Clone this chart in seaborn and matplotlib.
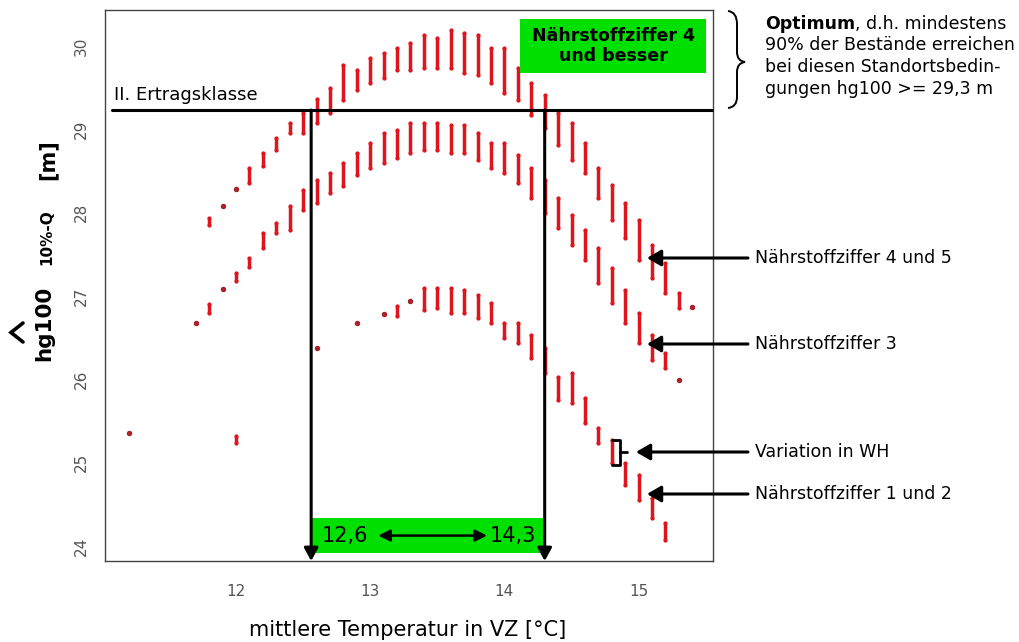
import matplotlib
matplotlib.use("Agg")
import numpy as np
import pandas as pd
import matplotlib.pyplot as plt
import seaborn as sns
from matplotlib.patches import Rectangle, FancyArrowPatch, PathPatch, ArrowStyle
from matplotlib.path import Path
from matplotlib.lines import Line2D

# ---------------- data ----------------
temp_n45 = [11.8, 11.9, 12.0, 12.1, 12.2, 12.3, 12.4, 12.5, 12.6, 12.7, 12.8, 12.9,
            13.0, 13.1, 13.2, 13.3, 13.4, 13.5, 13.6, 13.7, 13.8, 13.9, 14.0, 14.1,
            14.2, 14.3, 14.4, 14.5, 14.6, 14.7, 14.8, 14.9, 15.0, 15.1, 15.2, 15.3, 15.4]
lo_n45 = [27.85, 28.08, 28.28, 28.36, 28.56, 28.75, 28.95, 28.96, 29.08, 29.20, 29.35, 29.47,
          29.55, 29.61, 29.71, 29.71, 29.73, 29.73, 29.73, 29.68, 29.65, 29.56, 29.44, 29.35,
          29.17, 29.02, 28.81, 28.63, 28.47, 28.17, 27.91, 27.69, 27.43, 27.22, 27.03, 26.86, 26.87]
hi_n45 = [27.94, 28.08, 28.28, 28.53, 28.71, 28.90, 29.08, 29.20, 29.36, 29.50, 29.77, 29.71,
          29.86, 29.91, 29.98, 30.04, 30.13, 30.10, 30.19, 30.15, 30.13, 29.98, 29.98, 29.74,
          29.56, 29.41, 29.20, 29.07, 28.84, 28.54, 28.33, 28.11, 27.91, 27.61, 27.40, 27.03, 26.87]

temp_n3 = [11.7, 11.8, 11.9, 12.0, 12.1, 12.2, 12.3, 12.4, 12.5, 12.6, 12.7, 12.8, 12.9,
           13.0, 13.1, 13.2, 13.3, 13.4, 13.5, 13.6, 13.7, 13.8, 13.9, 14.0, 14.1, 14.2,
           14.3, 14.4, 14.5, 14.6, 14.7, 14.8, 14.9, 15.0, 15.1, 15.2, 15.3]
lo_n3 = [26.68, 26.80, 27.08, 27.18, 27.35, 27.58, 27.75, 27.79, 28.03, 28.11, 28.23, 28.32, 28.45,
         28.54, 28.59, 28.66, 28.71, 28.75, 28.75, 28.71, 28.72, 28.63, 28.54, 28.47, 28.35, 28.18,
         27.99, 27.81, 27.61, 27.43, 27.15, 26.91, 26.67, 26.43, 26.23, 26.13, 25.99]
hi_n3 = [26.68, 26.90, 27.08, 27.27, 27.46, 27.75, 27.87, 28.08, 28.27, 28.39, 28.48, 28.60, 28.72,
         28.83, 28.95, 28.99, 29.07, 29.07, 29.07, 29.05, 29.05, 28.96, 28.84, 28.83, 28.69, 28.53,
         28.39, 28.17, 27.97, 27.79, 27.57, 27.34, 27.07, 26.79, 26.53, 26.32, 25.99]

temp_n12 = [11.2, 12.0, 12.6, 12.9, 13.1, 13.2, 13.3, 13.4, 13.5, 13.6, 13.7, 13.8, 13.9,
            14.0, 14.1, 14.2, 14.3, 14.4, 14.5, 14.6, 14.7, 14.8, 14.9, 15.0, 15.1, 15.2]
lo_n12 = [25.35, 25.23, 26.37, 26.67, 26.78, 26.76, 26.94, 26.83, 26.85, 26.80, 26.80, 26.74, 26.67,
          26.50, 26.43, 26.25, 26.07, 25.75, 25.72, 25.48, 25.23, 24.99, 24.73, 24.55, 24.34, 24.07]
hi_n12 = [25.35, 25.32, 26.37, 26.67, 26.78, 26.88, 26.94, 27.09, 27.10, 27.10, 27.07, 27.01, 26.91,
          26.68, 26.68, 26.53, 26.37, 26.03, 26.08, 25.77, 25.42, 25.27, 25.00, 24.85, 24.57, 24.28]

x_ticks = [12, 13, 14, 15]
y_ticks = [24, 25, 26, 27, 28, 29, 30]
ertrag_h = 29.23          # II. Ertragsklasse line
opt_lo, opt_hi = 12.56, 14.30
opt_lo_label, opt_hi_label = "12,6", "14,3"

# ---------------- frames ----------------
frames = []
for name, t, lo, hi in [("4/5", temp_n45, lo_n45, hi_n45),
                        ("3", temp_n3, lo_n3, hi_n3),
                        ("1/2", temp_n12, lo_n12, hi_n12)]:
    frames.append(pd.DataFrame({"temp": t, "lo": lo, "hi": hi, "serie": name}))
ranges = pd.concat(frames, ignore_index=True)
points = ranges.melt(id_vars=["temp", "serie"], value_vars=["lo", "hi"], value_name="h")
single = ranges[ranges["lo"] == ranges["hi"]]

# ---------------- figure ----------------
sns.set_theme(style="white")
plt.rcParams["font.family"] = ["DejaVu Sans"]
plt.rcParams["text.color"] = "black"
W, H = 1020, 642
fig = plt.figure(figsize=(W / 100, H / 100), dpi=100, facecolor="white")


def fp(x, y):
    return (x / W, 1 - y / H)


ax = fig.add_axes([105 / W, 1 - 561 / H, 608 / W, 551 / H])
ax.set_xlim(11.024, 15.554)
ax.set_ylim(23.82, 30.43)

red = "#E0141C"
ax.vlines(ranges["temp"], ranges["lo"], ranges["hi"], colors=red, lw=2.5,
          capstyle="round", zorder=3)
sns.scatterplot(data=points, x="temp", y="h", color=red, s=9,
                linewidth=0, legend=False, ax=ax, zorder=4)
sns.scatterplot(data=single, x="temp", y="lo", color="#B3202A", s=12,
                edgecolor="#8A1A20", linewidth=0.4, legend=False, ax=ax, zorder=4)

ax.set_xticks(x_ticks)
ax.set_yticks(y_ticks)
ax.set_xlabel("")
ax.set_ylabel("")
for sp in ax.spines.values():
    sp.set_color("#444444")
    sp.set_linewidth(1.0)
ax.tick_params(axis="both", direction="out", length=6.5, width=1.0, color="#444444",
               labelcolor="#555555", labelsize=11)
ax.tick_params(axis="x", pad=10)
ax.tick_params(axis="y", pad=5)
for lab in ax.get_yticklabels():
    lab.set_rotation(90)
    lab.set_va("center")

# Ertragsklasse line and optimum boundaries
ax.plot([11.076, 15.547], [ertrag_h, ertrag_h], color="black", lw=2.2, clip_on=False, zorder=5)
ax.text(11.09, 29.35, "II. Ertragsklasse", fontsize=13, color="black", ha="left", va="baseline")

# bottom green box
ax.add_patch(Rectangle((opt_lo, 23.92), opt_hi - opt_lo, 0.41, facecolor="#00E000",
                       edgecolor="none", zorder=2))
for xv in (opt_lo, opt_hi):
    ax.annotate("", xy=(xv, 23.82), xytext=(xv, ertrag_h),
                arrowprops=dict(arrowstyle=ArrowStyle("-|>", head_length=0.55, head_width=0.3),
                                mutation_scale=14, lw=2.2, color="black",
                                shrinkA=0, shrinkB=0), zorder=6, annotation_clip=False)
ax.text(12.81, 24.125, opt_lo_label, fontsize=15, ha="center", va="center", zorder=7)
ax.text(14.06, 24.125, opt_hi_label, fontsize=15, ha="center", va="center", zorder=7)
ax.annotate("", xy=(13.06, 24.125), xytext=(13.87, 24.125),
            arrowprops=dict(arrowstyle=ArrowStyle("<|-|>", head_length=0.5, head_width=0.25),
                            mutation_scale=14, lw=1.8, color="black", shrinkA=0, shrinkB=0),
            zorder=7)

# top green box
ax.add_patch(Rectangle((14.116, 29.68), 1.386, 0.642, facecolor="#00E000",
                       edgecolor="none", zorder=6))
ax.text(14.809, 30.0, "Nährstoffziffer 4\nund besser", fontsize=12.5, fontweight="bold",
        ha="center", va="center", linespacing=1.15, zorder=7, color="black")

# bracket "Variation in WH"
fig.add_artist(Line2D([612 / W, 620 / W, 620 / W, 612 / W],
                      [1 - 440 / H, 1 - 440 / H, 1 - 465 / H, 1 - 465 / H],
                      color="black", lw=2.0, transform=fig.transFigure))
fig.add_artist(Line2D([620 / W, 627 / W], [1 - 452 / H, 1 - 452 / H],
                      color="black", lw=2.0, transform=fig.transFigure))

# axis labels
fig.text(*fp(408, 630), "mittlere Temperatur in VZ [°C]", fontsize=15,
         ha="center", va="center")
fig.text(*fp(44, 323), "hg100", fontsize=15.5, fontweight="bold", rotation=90,
         ha="center", va="center")
fig.text(*fp(47, 237), "10%-Q", fontsize=11, fontweight="bold", rotation=90,
         ha="center", va="center")
fig.text(*fp(48, 160), "[m]", fontsize=15, fontweight="bold", rotation=90,
         ha="center", va="center")
fig.add_artist(Line2D([23 / W, 11 / W, 23 / W], [1 - 323 / H, 1 - 332.5 / H, 1 - 342 / H],
                      color="black", lw=2.6, transform=fig.transFigure,
                      solid_joinstyle="miter"))

# right side: brace and text
verts = [fp(728, 11), fp(737, 12), fp(737, 24), fp(737, 52), fp(737, 61), fp(745, 62),
         fp(737, 63), fp(737, 72), fp(737, 97), fp(737, 107), fp(728, 108)]
codes = [Path.MOVETO, Path.CURVE3, Path.CURVE3, Path.LINETO, Path.CURVE3, Path.CURVE3,
         Path.CURVE3, Path.CURVE3, Path.LINETO, Path.CURVE3, Path.CURVE3]
fig.add_artist(PathPatch(Path(verts, codes), transform=fig.transFigure, fill=False,
                         lw=1.4, edgecolor="black"))

fs = 12.5
t1 = fig.text(*fp(765, 24), "Optimum", fontsize=fs, fontweight="bold", ha="left", va="center")
renderer = fig.canvas.get_renderer()
bb = t1.get_window_extent(renderer)
fig.text(bb.x1 / W, 1 - 24 / H, ", d.h. mindestens", fontsize=fs, ha="left", va="center")
fig.text(*fp(765, 45.5), "90% der Bestände erreichen", fontsize=fs, ha="left", va="center")
fig.text(*fp(765, 67), "bei diesen Standortsbedin-", fontsize=fs, ha="left", va="center")
fig.text(*fp(765, 88.5), "gungen hg100 >= 29,3 m", fontsize=fs, ha="left", va="center")

labels_right = [("Nährstoffziffer 4 und 5", 258, 647),
                ("Nährstoffziffer 3", 344, 647),
                ("Variation in WH", 452, 636),
                ("Nährstoffziffer 1 und 2", 494, 647)]
for txt, yy, tip in labels_right:
    fig.add_artist(FancyArrowPatch(fp(748, yy), fp(tip, yy), transform=fig.transFigure,
                                   arrowstyle=ArrowStyle("-|>", head_length=0.6, head_width=0.35),
                                   mutation_scale=14, lw=2.2, color="black",
                                   shrinkA=0, shrinkB=0))
    fig.text(*fp(755, yy), txt, fontsize=fs, ha="left", va="center")

fig.savefig("out.png", dpi=100, facecolor="white")
